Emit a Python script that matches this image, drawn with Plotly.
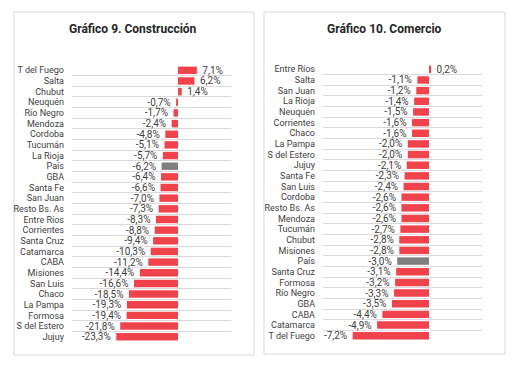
import plotly.graph_objects as go

W, H = 521, 367

# ---- data ----
cats_constr = ["T del Fuego", "Salta", "Chubut", "Neuquén", "Río Negro", "Mendoza", "Cordoba",
               "Tucumán", "La Rioja", "País", "GBA", "Santa Fe", "San Juan", "Resto Bs. As",
               "Entre Ríos", "Corrientes", "Santa Cruz", "Catamarca", "CABA", "Misiones",
               "San Luis", "Chaco", "La Pampa", "Formosa", "S del Estero", "Jujuy"]
vals_constr = [7.1, 6.2, 1.4, -0.7, -1.7, -2.4, -4.8, -5.1, -5.7, -6.2, -6.4, -6.6, -7.0, -7.3,
               -8.3, -8.8, -9.4, -10.3, -11.2, -14.4, -16.6, -18.5, -19.3, -19.4, -21.8, -23.3]

cats_com = ["Entre Ríos", "Salta", "San Juan", "La Rioja", "Neuquén", "Corrientes", "Chaco",
            "La Pampa", "S del Estero", "Jujuy", "Santa Fe", "San Luis", "Cordoba", "Resto Bs. As",
            "Mendoza", "Tucumán", "Chubut", "Misiones", "País", "Santa Cruz", "Formosa",
            "Río Negro", "GBA", "CABA", "Catamarca", "T del Fuego"]
vals_com = [0.2, -1.1, -1.2, -1.4, -1.5, -1.6, -1.6, -2.0, -2.0, -2.1, -2.3, -2.4, -2.6, -2.6,
            -2.6, -2.7, -2.8, -2.8, -3.0, -3.1, -3.2, -3.3, -3.5, -4.4, -4.9, -7.2]

titles = ["Gráfico 9. Construcción", "Gráfico 10. Comercio"]

RED = "#F0434B"
GRAY = "#7F7F7F"
FONT = "Roboto, Liberation Sans, sans-serif"


def fmt(v):
    s = f"{v:.1f}".replace(".", ",") + "%"
    return ("\u00a0" + s) if v >= 0 else (s + "\u00a0")


def px(x):
    return x / W


def py(y):
    return 1 - y / H


fig = go.Figure()

panels = [
    dict(cats=cats_constr, vals=vals_constr, xa="x", ya="y", dom=(72, 231), yb=(65, 342),
         rng=[-40, 20], box=(14, 12, 254, 355), tx=133),
    dict(cats=cats_com, vals=vals_com, xa="x2", ya="y2", dom=(323, 482), yb=(64, 341),
         rng=[-10, 5], box=(264, 12, 505, 354), tx=384),
]

for i, p in enumerate(panels):
    colors = [GRAY if c == "País" else RED for c in p["cats"]]
    fig.add_trace(go.Bar(
        x=p["vals"], y=p["cats"], orientation="h", xaxis=p["xa"], yaxis=p["ya"],
        marker=dict(color=colors, line=dict(width=0)),
        text=[fmt(v) for v in p["vals"]], textposition="outside", constraintext="none",
        textfont=dict(family=FONT, size=10, color="#404040"),
        cliponaxis=False, showlegend=False, hoverinfo="skip",
    ))
    sfx = "" if i == 0 else "2"
    fig.layout["xaxis" + sfx] = dict(
        domain=[px(p["dom"][0]), px(p["dom"][1])], range=p["rng"], anchor="y" + sfx,
        showgrid=False, zeroline=False, showticklabels=False, showline=False, fixedrange=True,
    )
    fig.layout["yaxis" + sfx] = dict(
        domain=[py(p["yb"][1]), py(p["yb"][0])], anchor="x" + sfx,
        autorange="reversed", type="category", tickson="boundaries",
        tickmode="array", tickvals=p["cats"], ticktext=p["cats"],
        showgrid=True, gridcolor="#D9D9D9", gridwidth=1, ticks="", ticklen=0,
        showline=False, zeroline=False, fixedrange=True,
        tickfont=dict(family=FONT, size=9, color="#404040"),
        ticklabelstandoff=7,
    )
    x0, y0, x1, y1 = p["box"]
    fig.add_shape(type="rect", xref="paper", yref="paper",
                  x0=px(x0), x1=px(x1), y0=py(y1), y1=py(y0),
                  line=dict(color="#D9D9D9", width=1), fillcolor="rgba(0,0,0,0)", layer="below")
    fig.add_annotation(text="<b>" + titles[i] + "</b>", xref="paper", yref="paper",
                       x=px(p["tx"]), y=py(29), xanchor="center", yanchor="middle",
                       showarrow=False, font=dict(family=FONT, size=12, color="#262626"))

fig.update_layout(
    width=W, height=H, margin=dict(l=0, r=0, t=0, b=0),
    paper_bgcolor="white", plot_bgcolor="white", bargap=0.3,
)

fig.write_html("out.html", config={"displayModeBar": False, "staticPlot": True},
               post_script="document.body.style.margin='0';")
